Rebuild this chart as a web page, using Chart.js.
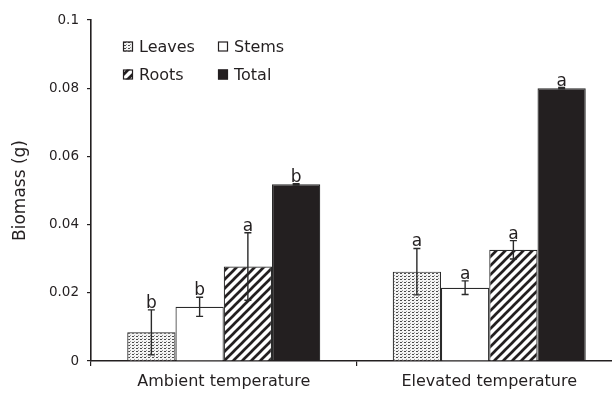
<!DOCTYPE html>
<html>
<head>
<meta charset="utf-8">
<script src="https://cdn.jsdelivr.net/npm/chart.js@4/dist/chart.umd.min.js"></script>
<style>
html,body{margin:0;padding:0;background:#fff;overflow:hidden;}
#wrap{width:612px;height:393px;overflow:hidden;}
</style>
</head>
<body>
<div id="wrap"><canvas id="c" width="640" height="393" style="width:640px;height:393px;"></canvas></div>
<script>
// ---- data ----
const categories = ['Ambient temperature', 'Elevated temperature'];
const seriesNames = ['Leaves', 'Stems', 'Roots', 'Total'];
const leaves    = [0.0084, 0.0262];
const leavesErr = [0.0066, 0.0068];
const stems     = [0.0159, 0.0215];
const stemsErr  = [0.0028, 0.0020];
const roots     = [0.0277, 0.0326];
const rootsErr  = [0.0099, 0.0027];
const total     = [0.0518, 0.0800];
const totalErr  = [0.0002, 0.0002];
const leavesSig = ['b', 'a'];
const stemsSig  = ['b', 'a'];
const rootsSig  = ['a', 'a'];
const totalSig  = ['b', 'a'];
const yTickLabels = ['0', '0.02', '0.04', '0.06', '0.08', '0.1'];
const yTitle = 'Biomass (g)';

const INK = '#231f20';

function makeDotPattern() {
  const c = document.createElement('canvas');
  c.width = 4; c.height = 3;
  const g = c.getContext('2d');
  g.fillStyle = '#f4f4f4'; g.fillRect(0, 0, 4, 3);
  g.fillStyle = '#4a4a4a';
  g.fillRect(0, 0, 2, 1);
  g.fillStyle = '#9a9a9a';
  g.fillRect(2, 2, 1, 1);
  return g.createPattern(c, 'repeat');
}
function makeHatchPattern() {
  const s = 9;
  const c = document.createElement('canvas');
  c.width = s; c.height = s;
  const g = c.getContext('2d');
  g.fillStyle = '#ffffff'; g.fillRect(0, 0, s, s);
  g.strokeStyle = INK; g.lineWidth = 2.7;
  g.beginPath();
  g.moveTo(-s, s); g.lineTo(s, -s);
  g.moveTo(0, s); g.lineTo(s, 0);
  g.moveTo(0, 2 * s); g.lineTo(2 * s, 0);
  g.stroke();
  return g.createPattern(c, 'repeat');
}
const dotPat = makeDotPattern();
const hatchPat = makeHatchPattern();

const errs = [leavesErr, stemsErr, rootsErr, totalErr];
const sigs = [leavesSig, stemsSig, rootsSig, totalSig];
const fills = [dotPat, '#ffffff', hatchPat, INK];

const errorBarPlugin = {
  id: 'errbars',
  afterDatasetsDraw(chart) {
    const ctx = chart.ctx;
    const ys = chart.scales.y;
    ctx.save();
    chart.data.datasets.forEach((ds, i) => {
      const meta = chart.getDatasetMeta(i);
      meta.data.forEach((el, j) => {
        const v = ds.data[j], e = errs[i][j];
        const x = el.x;
        const yT = ys.getPixelForValue(v + e);
        const yB = ys.getPixelForValue(v - e);
        ctx.strokeStyle = '#2a2a2a';
        ctx.lineWidth = 1.4;
        ctx.beginPath();
        ctx.moveTo(x, yT); ctx.lineTo(x, yB);
        ctx.moveTo(x - 3.5, yT); ctx.lineTo(x + 3.5, yT);
        ctx.moveTo(x - 3.5, yB); ctx.lineTo(x + 3.5, yB);
        ctx.stroke();
        ctx.fillStyle = INK;
        ctx.font = '17px "DejaVu Sans"';
        ctx.textAlign = 'center';
        ctx.textBaseline = 'alphabetic';
        ctx.fillText(sigs[i][j], x, yT - 2);
      });
    });
    ctx.restore();
  }
};

const legendPlugin = {
  id: 'customLegend',
  afterDraw(chart) {
    const ctx = chart.ctx;
    const items = [
      {x: 123, base: 52, i: 0},
      {x: 218, base: 52, i: 1},
      {x: 123, base: 80, i: 2},
      {x: 218, base: 80, i: 3}
    ];
    ctx.save();
    items.forEach(it => {
      const bx = it.x, by = it.base - 10.5, bs = 10;
      ctx.fillStyle = fills[it.i];
      ctx.fillRect(bx, by, bs, bs);
      ctx.strokeStyle = INK; ctx.lineWidth = 1.2;
      ctx.strokeRect(bx + 0.5, by + 0.5, bs - 1, bs - 1);
      ctx.fillStyle = INK;
      ctx.font = '16px "DejaVu Sans"';
      ctx.textAlign = 'left';
      ctx.textBaseline = 'alphabetic';
      ctx.fillText(chart.data.datasets[it.i].label, bx + 16, it.base);
    });
    ctx.restore();
  }
};

const seriesData = [leaves, stems, roots, total];
new Chart(document.getElementById('c'), {
  type: 'bar',
  data: {
    labels: categories,
    datasets: seriesNames.map((n, i) => ({
      label: n,
      data: seriesData[i],
      backgroundColor: fills[i],
      borderColor: '#2a2a2a',
      borderWidth: 1.2,
      categoryPercentage: 0.727,
      barPercentage: 1.0
    }))
  },
  options: {
    responsive: false,
    animation: false,
    devicePixelRatio: 1,
    layout: {padding: {left: 0, right: 18, top: 20, bottom: 0}},
    plugins: {legend: {display: false}, tooltip: {enabled: false}},
    scales: {
      x: {
        grid: {drawOnChartArea: false, drawTicks: true, tickLength: 5, color: INK, lineWidth: 1.2},
        border: {display: true, color: INK, width: 1.6},
        ticks: {font: {family: 'DejaVu Sans', size: 16}, color: INK, padding: 6},
        afterFit(s) { s.height = 32; }
      },
      y: {
        min: 0, max: 0.1,
        grid: {drawOnChartArea: false, drawTicks: true, tickLength: 4, color: INK, lineWidth: 1.2},
        border: {display: true, color: INK, width: 1.6},
        ticks: {
          stepSize: 0.02,
          font: {family: 'DejaVu Sans', size: 13.5},
          color: INK,
          padding: 8,
          callback: (v, idx) => yTickLabels[idx]
        },
        title: {display: true, text: yTitle, font: {family: 'DejaVu Sans', size: 17}, color: INK, padding: {top: 10, bottom: 0}},
        afterFit(s) { s.width = 91; }
      }
    }
  },
  plugins: [errorBarPlugin, legendPlugin]
});
</script>
</body>
</html>
